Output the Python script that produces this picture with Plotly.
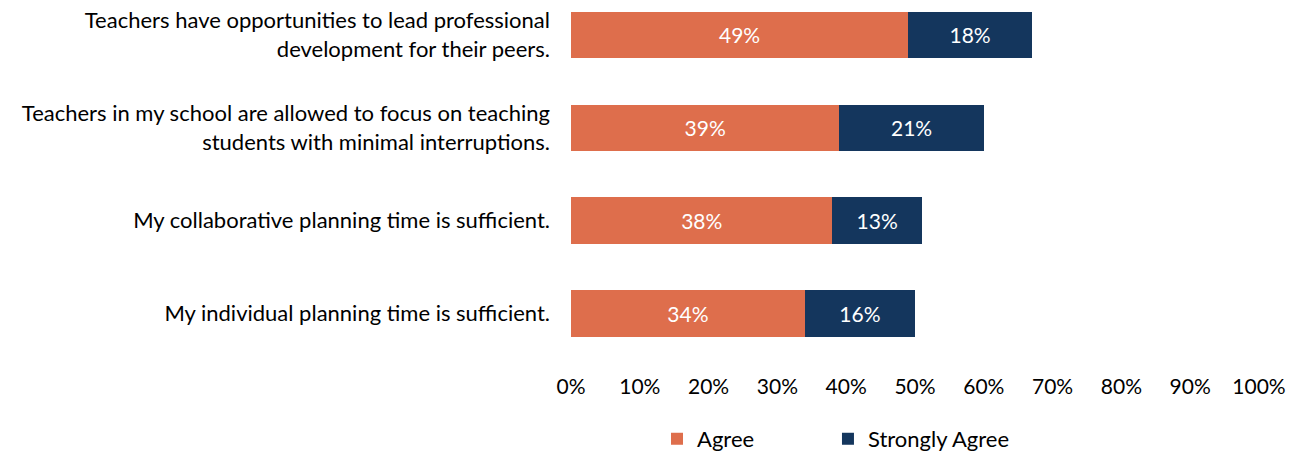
import plotly.graph_objects as go

categories = [
    "Teachers have opportunities to lead professional<br>development for their peers.",
    "Teachers in my school are allowed to focus on teaching<br>students with minimal interruptions.",
    "My collaborative planning time is sufficient.",
    "My individual planning time is sufficient.",
]
agree = [49, 39, 38, 34]
strongly_agree = [18, 21, 13, 16]
tick_vals = [0, 10, 20, 30, 40, 50, 60, 70, 80, 90, 100]
tick_text = [f"{v}%" for v in tick_vals]

FONT = "Lato"
ORANGE = "#DE6E4C"
NAVY = "#14365D"

fig = go.Figure()
fig.add_trace(go.Bar(
    y=categories, x=agree, name="Agree", orientation="h",
    marker=dict(color=ORANGE, line=dict(width=0)),
    text=[f"{v}%" for v in agree], textposition="inside", insidetextanchor="middle",
    textfont=dict(color="white", size=21, family=FONT), width=0.5,
    legend="legend",
))
fig.add_trace(go.Bar(
    y=categories, x=strongly_agree, name="Strongly Agree", orientation="h",
    marker=dict(color=NAVY, line=dict(width=0)),
    text=[f"{v}%" for v in strongly_agree], textposition="inside", insidetextanchor="middle",
    textfont=dict(color="white", size=21, family=FONT), width=0.5,
    legend="legend2",
))

legend_common = dict(
    orientation="h", xanchor="left", yref="container", y=0.031, yanchor="middle",
    font=dict(size=22, family=FONT, color="#000000"),
    bgcolor="rgba(0,0,0,0)",
)

fig.update_layout(
    barmode="stack",
    width=1299, height=453,
    margin=dict(l=571, r=40, t=0, b=92.5, autoexpand=False),
    paper_bgcolor="white", plot_bgcolor="white",
    font=dict(family=FONT, size=22, color="#000000"),
    uniformtext=dict(mode=False),
    showlegend=True,
    legend=dict(x=0.125, **legend_common),
    legend2=dict(x=0.3735, **legend_common),
)
fig.update_xaxes(
    range=[0, 100], tickvals=tick_vals, ticktext=tick_text,
    showgrid=False, zeroline=False, showline=False, ticks="",
    ticklabelstandoff=12, tickfont=dict(size=21, family=FONT, color="#000000"),
)
fig.update_yaxes(
    categoryorder="array", categoryarray=categories,
    range=[3.5, -0.376], showgrid=False, zeroline=False, showline=False, ticks="",
    ticklabelstandoff=20, tickfont=dict(size=22, family=FONT, color="#000000"),
)

fig.write_html("out.html")
